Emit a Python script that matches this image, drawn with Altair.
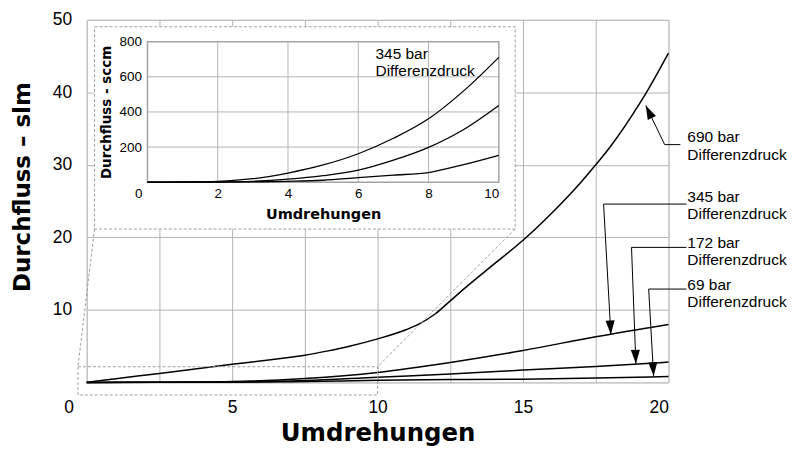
import math
import altair as alt
import pandas as pd

# ---------------- main chart data (Durchfluss in slm over Umdrehungen) ----------------
turns_690 = [0, 1, 2.5, 5, 6.25, 7.5, 8.3, 9, 10, 11, 11.4, 12, 12.5, 13, 14, 15, 16, 17, 17.5, 18, 19, 19.26, 20]
flow_690 = [0, 0.5, 1.24, 2.5, 3.1, 3.75, 4.35, 4.95, 6.0, 7.3, 8.0, 9.5, 11.25, 13.0, 16.3, 19.6, 23.4, 27.65, 30.0, 32.5, 38.4, 40.1, 45.4]
turns_345 = [0, 2.5, 5, 7.5, 10, 12.5, 15, 17.5, 20]
flow_345 = [0, 0.02, 0.12, 0.55, 1.38, 2.75, 4.4, 6.3, 8.0]
turns_172 = [0, 5, 7.5, 10, 12.5, 15, 17.5, 20]
flow_172 = [0, 0.04, 0.25, 0.72, 1.15, 1.7, 2.2, 2.8]
turns_69 = [0, 5, 7.5, 10, 12.5, 15, 17.5, 20]
flow_69 = [0, 0.02, 0.12, 0.3, 0.4, 0.45, 0.6, 0.8]

# ---------------- inset data (Durchfluss in sccm over Umdrehungen 0..10) ----------------
inset_turns = [0, 1, 2, 3, 4, 5, 6, 7, 8, 9, 10]
inset_top = [0, 1, 5, 20, 52, 98, 162, 250, 361, 520, 711]
inset_mid = [0, 0, 1, 5, 17, 37, 68, 125, 198, 300, 437]
inset_low = [0, 0, 1, 2, 5, 11, 26, 40, 55, 100, 153]

# ---------------- annotations (main data units) ----------------
ann_labels = ["690 bar\nDifferenzdruck", "345 bar\nDifferenzdruck",
              "172 bar\nDifferenzdruck", "69 bar\nDifferenzdruck"]
ann_text_x = [20.65, 20.65, 20.65, 20.65]
ann_text_y = [33.79, 25.59, 19.27, 13.46]
leader_end_x = [20.41, 20.62, 20.62, 20.62]
leader_y = [32.79, 24.59, 18.62, 12.87]
corner_x = [19.87, 17.77, 18.73, 19.32]
tip_x = [19.22, 18.02, 18.88, 19.49]
tip_y = [38.19, 6.6, 2.57, 0.87]

inset_label = ["345 bar\nDifferenzdruck"]
inset_label_x = [6.49]
inset_label_y = [732]

# inset box / zoom box / connectors (main data units)
inset_box = {"x": [0.27], "x2": [14.73], "y": [21.15], "y2": [49.04]}
zoom_box = {"x": [-0.3], "x2": [10.0], "y": [-1.74], "y2": [2.16]}
conn_x = [0.27, 14.73]
conn_y = [21.15, 21.15]
conn_x2 = [-0.3, 10.0]
conn_y2 = [2.16, 2.16]

# ---------------- layout constants ----------------
W, H = 584, 364
PX_X = W / 20.0
PX_Y = H / 50.0
GRID = "#b4b4b4"
FRAME = "#a4a4a4"
DASH = "#a0a0a0"
FONT = "Liberation Sans"
HEAVY = "DejaVu Sans"

# ---------------- tables ----------------
rows = []
for name, xs, ys in [("690", turns_690, flow_690), ("345", turns_345, flow_345),
                     ("172", turns_172, flow_172), ("69", turns_69, flow_69)]:
    for a, b in zip(xs, ys):
        rows.append({"series": name, "x": a, "y": b})
df_main = pd.DataFrame(rows)

rows = []
for name, ys in [("top", inset_top), ("mid", inset_mid), ("low", inset_low)]:
    for a, b in zip(inset_turns, ys):
        rows.append({"series": name, "x": a, "y": b})
df_inset = pd.DataFrame(rows)

rows = []
for i in range(len(ann_labels)):
    rows.append({"g": i, "o": 0, "x": leader_end_x[i], "y": leader_y[i]})
    rows.append({"g": i, "o": 1, "x": corner_x[i], "y": leader_y[i]})
    rows.append({"g": i, "o": 2, "x": tip_x[i], "y": tip_y[i]})
df_leader = pd.DataFrame(rows)

angles = []
for i in range(len(tip_x)):
    dx = (tip_x[i] - corner_x[i]) * PX_X
    dy = -(tip_y[i] - leader_y[i]) * PX_Y
    angles.append(math.degrees(math.atan2(dx, -dy)) % 360)
df_tip = pd.DataFrame({"x": tip_x, "y": tip_y, "ang": angles})
df_ann = pd.DataFrame({"x": ann_text_x, "y": ann_text_y, "t": ann_labels})
df_conn = pd.DataFrame({"x": conn_x, "y": conn_y, "x2": conn_x2, "y2": conn_y2})

# ---------------- main scales / axes ----------------
main_x_axis = alt.Axis(
    values=[0, 2.5, 5, 7.5, 10, 12.5, 15, 17.5, 20],
    labelExpr="datum.value % 5 == 0 ? datum.label : ''",
    grid=True, gridColor=GRID, gridWidth=1, ticks=False, domain=False,
    labelFont=FONT, labelFontSize=17.5, labelColor="black", labelPadding=16,
    labelOffset={"condition": {"test": "datum.value == 0", "value": -23}, "value": 0},
    title="Umdrehungen", titleFont=HEAVY, titleFontWeight="bold", titleFontSize=24.5,
    titleColor="black", titlePadding=6,
)
main_y_axis = alt.Axis(
    values=[0, 10, 20, 30, 40, 50],
    labelExpr="datum.value == 0 ? '' : datum.label",
    grid=True, gridColor=GRID, gridWidth=1, ticks=False, domain=False,
    labelFont=FONT, labelFontSize=17.5, labelColor="black", labelPadding=15,
    title="Durchfluss – slm", titleFont=HEAVY, titleFontWeight="bold", titleFontSize=23,
    titleColor="black", titlePadding=18, titleY=167.5,
)
main_xs = alt.Scale(domain=[0, 20], nice=False, zero=False)
main_ys = alt.Scale(domain=[0, 50], nice=False, zero=False)


def MX(f="x"):
    return alt.X(f, type="quantitative", scale=main_xs, axis=main_x_axis)


def MY(f="y"):
    return alt.Y(f, type="quantitative", scale=main_ys, axis=main_y_axis)


box_layer = alt.Chart(pd.DataFrame(inset_box)).mark_rect(
    fill="white", stroke=DASH, strokeDash=[3, 2], strokeWidth=1
).encode(x=MX("x"), x2="x2", y=MY("y"), y2="y2")

zoom_layer = alt.Chart(pd.DataFrame(zoom_box)).mark_rect(
    fill="white", fillOpacity=0, stroke=DASH, strokeDash=[3, 2], strokeWidth=1
).encode(x=MX("x"), x2="x2", y=MY("y"), y2="y2")

conn_layer = alt.Chart(df_conn).mark_rule(
    color=DASH, strokeDash=[3, 2], strokeWidth=1
).encode(x=MX("x"), x2="x2", y=MY("y"), y2="y2")

main_lines = alt.Chart(df_main).mark_line(
    color="black", strokeWidth=1.5, interpolate="monotone"
).encode(x=MX("x"), y=MY("y"), detail="series:N")

leader_layer = alt.Chart(df_leader).mark_line(color="black", strokeWidth=1).encode(
    x=MX("x"), y=MY("y"), detail="g:N", order="o:Q"
)

tip_layer = alt.Chart(df_tip).mark_point(
    shape="M0,0L-0.65,2L0.65,2Z", filled=True, size=196, color="black", opacity=1
).encode(x=MX("x"), y=MY("y"), angle=alt.Angle("ang:Q", scale=None))

ann_layer = alt.Chart(df_ann).mark_text(
    align="left", baseline="middle", font=FONT, fontSize=15.5, lineHeight=17.5,
    lineBreak="\n", color="black"
).encode(x=MX("x"), y=MY("y"), text="t:N")

main = alt.layer(box_layer, main_lines, zoom_layer, conn_layer, leader_layer, tip_layer, ann_layer)

# ---------------- inset scales / axes ----------------
inset_x_axis = alt.Axis(
    orient="bottom", offset=-201, values=[0, 2, 4, 6, 8, 10], zindex=2,
    grid=False, ticks=False, domain=False,
    labelFont=FONT, labelFontSize=13.5, labelColor="black", labelPadding=4,
    labelOffset={"condition": {"test": "datum.value == 0", "value": -13}, "value": 0},
    title="Umdrehungen", titleFont=HEAVY, titleFontWeight="bold", titleFontSize=14.5,
    titleColor="black", titlePadding=8,
)
inset_y_axis = alt.Axis(
    orient="left", offset=-61, values=[200, 400, 600, 800], zindex=2,
    grid=False, ticks=False, domain=False,
    labelFont=FONT, labelFontSize=13.5, labelColor="black", labelPadding=6,
    title="Durchfluss - sccm", titleFont=HEAVY, titleFontWeight="bold", titleFontSize=13.5,
    titleColor="black", titlePadding=6,
)
inset_xs = alt.Scale(domain=[0, 10], range=[61, 413.7], nice=False, zero=False)
inset_ys = alt.Scale(domain=[0, 800], range=[163, 22], nice=False, zero=False)


def IX(f="x"):
    return alt.X(f, type="quantitative", scale=inset_xs, axis=inset_x_axis)


def IY(f="y"):
    return alt.Y(f, type="quantitative", scale=inset_ys, axis=inset_y_axis)


inset_vgrid = alt.Chart(pd.DataFrame({"x": [2, 4, 6, 8], "y": [0] * 4, "y2": [800] * 4})).mark_rule(
    color=GRID, strokeWidth=1
).encode(x=IX("x"), y=IY("y"), y2="y2")
inset_hgrid = alt.Chart(pd.DataFrame({"y": [200, 400, 600], "x": [0] * 3, "x2": [10] * 3})).mark_rule(
    color=GRID, strokeWidth=1
).encode(x=IX("x"), x2="x2", y=IY("y"))
inset_frame = alt.Chart(pd.DataFrame({"x": [0], "x2": [10], "y": [0], "y2": [800]})).mark_rect(
    fill="white", fillOpacity=0, stroke=FRAME, strokeWidth=1.5
).encode(x=IX("x"), x2="x2", y=IY("y"), y2="y2")
inset_lines = alt.Chart(df_inset).mark_line(
    color="black", strokeWidth=1.3, interpolate="monotone"
).encode(x=IX("x"), y=IY("y"), detail="series:N")
inset_text = alt.Chart(pd.DataFrame({"x": inset_label_x, "y": inset_label_y, "t": inset_label})).mark_text(
    align="left", baseline="middle", font=FONT, fontSize=15.5, lineHeight=17.5,
    lineBreak="\n", color="black"
).encode(x=IX("x"), y=IY("y"), text="t:N")

inset = alt.layer(inset_vgrid, inset_hgrid, inset_frame, inset_lines, inset_text)

chart = (
    alt.layer(main, inset)
    .resolve_scale(x="independent", y="independent")
    .resolve_axis(x="independent", y="independent")
    .properties(
        width=W, height=H,
        autosize=alt.AutoSizeParams(type="none"),
        padding={"left": 79, "top": 11, "right": 120, "bottom": 66},
    )
    .configure_view(stroke=FRAME, strokeWidth=1.5)
    .configure(background="white")
)

chart.save("out.html", embed_options={"renderer": "svg", "actions": False})
